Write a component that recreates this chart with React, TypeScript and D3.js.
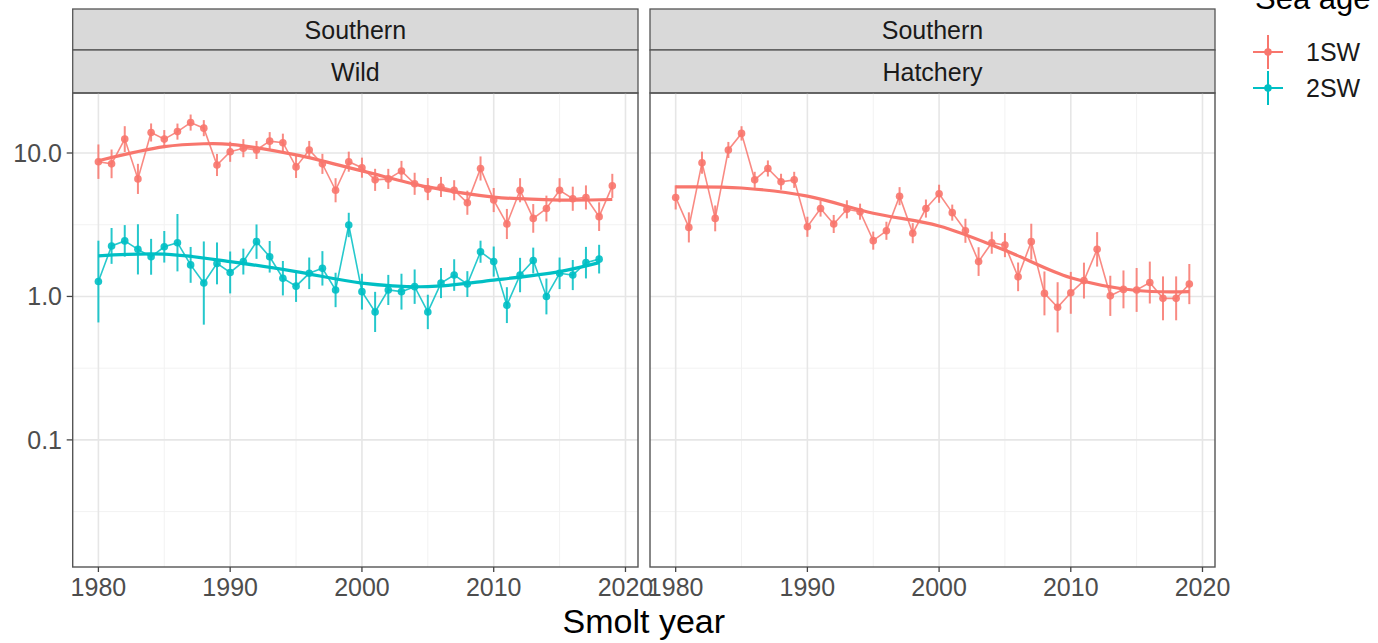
import React from "react";
import * as d3 from "d3";

// smolt years (categories)
const years = d3.range(1980, 2020);
const years2SW = d3.range(1980, 2019);

// Southern / Wild, 1SW return rate (%)
const wild1SW = [
  8.7, 8.4, 12.5, 6.6, 13.9, 12.5, 14.1, 16.3, 14.9, 8.25,
  10.2, 10.8, 10.5, 12.1, 11.8, 8.0, 10.5, 8.4, 5.5, 8.7,
  7.9, 6.5, 6.6, 7.5, 6.1, 5.6, 5.8, 5.5, 4.5, 7.8,
  4.7, 3.2, 5.5, 3.5, 4.1, 5.5, 4.8, 4.9, 3.6, 5.9,
];
// half width of the interval, log10 units
const wild1SWerr = [
  0.12, 0.1, 0.09, 0.105, 0.063, 0.063, 0.056, 0.056, 0.056, 0.077,
  0.07, 0.063, 0.063, 0.063, 0.063, 0.077, 0.063, 0.07, 0.084, 0.07,
  0.07, 0.077, 0.07, 0.07, 0.077, 0.077, 0.07, 0.07, 0.084, 0.084,
  0.084, 0.105, 0.084, 0.1, 0.09, 0.084, 0.084, 0.084, 0.1, 0.084,
];

// Southern / Wild, 2SW
const wild2SW = [
  1.27, 2.25, 2.44, 2.13, 1.89, 2.22, 2.37, 1.66, 1.24, 1.7,
  1.47, 1.75, 2.41, 1.89, 1.34, 1.18, 1.45, 1.57, 1.11, 3.15,
  1.08, 0.78, 1.11, 1.08, 1.17, 0.78, 1.24, 1.41, 1.22, 2.05,
  1.75, 0.87, 1.41, 1.78, 1.0, 1.45, 1.41, 1.72, 1.82,
];
const wild2SWerr = [
  0.285, 0.125, 0.11, 0.175, 0.125, 0.11, 0.2, 0.125, 0.29, 0.146,
  0.146, 0.09, 0.12, 0.11, 0.12, 0.11, 0.11, 0.12, 0.12, 0.085,
  0.125, 0.14, 0.105, 0.125, 0.12, 0.12, 0.105, 0.11, 0.09, 0.077,
  0.105, 0.125, 0.12, 0.09, 0.125, 0.11, 0.105, 0.11, 0.1,
];

// Southern / Hatchery, 1SW
const hatch1SW = [
  4.9, 3.03, 8.56, 3.5, 10.5, 13.7, 6.5, 7.8, 6.3, 6.5,
  3.06, 4.1, 3.2, 4.05, 3.9, 2.45, 2.87, 5.0, 2.76, 4.1,
  5.2, 3.84, 2.87, 1.75, 2.37, 2.28, 1.37, 2.41, 1.05, 0.84,
  1.06, 1.29, 2.13, 1.01, 1.12, 1.11, 1.25, 0.97, 0.97, 1.22,
];
const hatch1SWerr = [
  0.084, 0.105, 0.077, 0.09, 0.056, 0.05, 0.056, 0.056, 0.056, 0.056,
  0.07, 0.056, 0.063, 0.063, 0.056, 0.063, 0.063, 0.063, 0.07, 0.063,
  0.063, 0.056, 0.084, 0.1, 0.077, 0.084, 0.1, 0.125, 0.153, 0.175,
  0.146, 0.125, 0.12, 0.14, 0.132, 0.153, 0.146, 0.153, 0.153, 0.14,
];

// loess-style trend lines
const wild1SWsmooth: [number, number][] = [
  [1980, 8.84], [1985, 11.07], [1988, 11.6], [1990, 11.5], [1995, 9.7],
  [2000, 7.5], [2005, 5.8], [2010, 4.93], [2015, 4.7], [2019, 4.74],
];
const wild2SWsmooth: [number, number][] = [
  [1980, 1.92], [1985, 1.97], [1990, 1.75], [1995, 1.49], [2000, 1.24],
  [2005, 1.17], [2010, 1.3], [2015, 1.49], [2018, 1.72],
];
const hatch1SWsmooth: [number, number][] = [
  [1980, 5.8], [1985, 5.7], [1990, 5.0], [1995, 3.8], [2000, 3.1],
  [2005, 2.1], [2010, 1.35], [2015, 1.1], [2019, 1.08],
];

const xTicks = [1980, 1990, 2000, 2010, 2020];
const xMinor = [1985, 1995, 2005, 2015];
const yTicks = [10, 1, 0.1];
const yTickLabels = ["10.0", "1.0", "0.1"];
const yMinor = [3.162, 0.3162, 0.03162];

const seaAges = ["1SW", "2SW"];
const colors = ["#F8766D", "#00BFC4"];

const panels = [
  {
    strip: ["Southern", "Wild"],
    series: [
      { age: 0, years, vals: wild1SW, err: wild1SWerr, smooth: wild1SWsmooth },
      { age: 1, years: years2SW, vals: wild2SW, err: wild2SWerr, smooth: wild2SWsmooth },
    ],
  },
  {
    strip: ["Southern", "Hatchery"],
    series: [
      { age: 0, years, vals: hatch1SW, err: hatch1SWerr, smooth: hatch1SWsmooth },
    ],
  },
];

const W = 1378;
const H = 643;
const panelX = [
  [72.7, 638],
  [650, 1215],
];
const top = 93;
const bottom = 567;
const font = "'Liberation Sans', Arial, Helvetica, sans-serif";

const y = d3.scaleLog().domain([0.013, 26.2]).range([bottom, top]);

const Panel = ({ p, idx }) => {
  const [x0, x1] = panelX[idx];
  const x = d3.scaleLinear().domain([1978.05, 2020.95]).range([x0, x1]);
  const line = d3
    .line<[number, number]>()
    .x((d) => x(d[0]))
    .y((d) => y(d[1]));
  const smoothLine = d3
    .line<[number, number]>()
    .curve(d3.curveCatmullRom.alpha(0.5))
    .x((d) => x(d[0]))
    .y((d) => y(d[1]));
  const cx = (x0 + x1) / 2;
  return (
    <g>
      {/* strips */}
      <rect x={x0} y={9} width={x1 - x0} height={41} fill="#D9D9D9" stroke="#555" strokeWidth={1.3} />
      <rect x={x0} y={50} width={x1 - x0} height={43} fill="#D9D9D9" stroke="#555" strokeWidth={1.3} />
      <text x={cx} y={38.5} textAnchor="middle" fontSize={25} fill="#1A1A1A">{p.strip[0]}</text>
      <text x={cx} y={80.5} textAnchor="middle" fontSize={25} fill="#1A1A1A">{p.strip[1]}</text>
      {/* grid */}
      {yMinor.map((v) => (
        <line key={"ym" + v} x1={x0} x2={x1} y1={y(v)} y2={y(v)} stroke="#F2F2F2" strokeWidth={1} />
      ))}
      {xMinor.map((v) => (
        <line key={"xm" + v} x1={x(v)} x2={x(v)} y1={top} y2={bottom} stroke="#F2F2F2" strokeWidth={1} />
      ))}
      {yTicks.map((v) => (
        <line key={"yg" + v} x1={x0} x2={x1} y1={y(v)} y2={y(v)} stroke="#E6E6E6" strokeWidth={1.6} />
      ))}
      {xTicks.map((v) => (
        <line key={"xg" + v} x1={x(v)} x2={x(v)} y1={top} y2={bottom} stroke="#E6E6E6" strokeWidth={1.6} />
      ))}
      {/* data */}
      {p.series.map((s, si) => {
        const col = colors[s.age];
        const pts: [number, number][] = s.years.map((yr, i) => [yr, s.vals[i]]);
        return (
          <g key={si}>
            <path d={line(pts) || ""} fill="none" stroke={col} strokeWidth={1.6} opacity={0.85} />
            {pts.map((d, i) => (
              <line
                key={"e" + i}
                x1={x(d[0])}
                x2={x(d[0])}
                y1={y(d[1] / Math.pow(10, s.err[i]))}
                y2={y(d[1] * Math.pow(10, s.err[i]))}
                stroke={col}
                strokeWidth={2}
                opacity={0.85}
              />
            ))}
            {pts.map((d, i) => (
              <circle key={"p" + i} cx={x(d[0])} cy={y(d[1])} r={3.8} fill={col} opacity={0.9} />
            ))}
            <path d={smoothLine(s.smooth) || ""} fill="none" stroke={col} strokeWidth={3.2} />
          </g>
        );
      })}
      {/* border */}
      <rect x={x0} y={top} width={x1 - x0} height={bottom - top} fill="none" stroke="#555" strokeWidth={1.4} />
      {/* x axis */}
      {xTicks.map((v) => (
        <g key={"xt" + v}>
          <line x1={x(v)} x2={x(v)} y1={bottom} y2={bottom + 5} stroke="#444" strokeWidth={1.3} />
          <text x={x(v)} y={bottom + 29} textAnchor="middle" fontSize={25} fill="#4D4D4D">
            {v}
          </text>
        </g>
      ))}
    </g>
  );
};

const App = () => {
  return (
    <svg
      width={W}
      height={H}
      style={{ position: "absolute", left: 0, top: 0, background: "#fff" }}
      fontFamily={font}
    >
      {panels.map((p, i) => (
        <Panel key={i} p={p} idx={i} />
      ))}
      {/* y axis */}
      {yTicks.map((v, i) => (
        <g key={"yt" + v}>
          <line x1={66.7} x2={72.7} y1={y(v)} y2={y(v)} stroke="#444" strokeWidth={1.3} />
          <text x={62} y={y(v) + 9} textAnchor="end" fontSize={25} fill="#4D4D4D">
            {yTickLabels[i]}
          </text>
        </g>
      ))}
      <text x={(panelX[0][0] + panelX[1][1]) / 2} y={633} textAnchor="middle" fontSize={34} fill="#000">
        Smolt year
      </text>
      {/* legend */}
      <text x={1255} y={9} fontSize={31} fill="#000">Sea age</text>
      {seaAges.map((a, i) => {
        const cy = 52 + i * 36;
        return (
          <g key={a}>
            <line x1={1253} x2={1283} y1={cy} y2={cy} stroke={colors[i]} strokeWidth={2} />
            <line x1={1268} x2={1268} y1={cy - 17} y2={cy + 17} stroke={colors[i]} strokeWidth={2} />
            <circle cx={1268} cy={cy} r={3.8} fill={colors[i]} />
            <text x={1306} y={cy + 9} fontSize={25} fill="#1A1A1A">{a}</text>
          </g>
        );
      })}
    </svg>
  );
};

export default App;
